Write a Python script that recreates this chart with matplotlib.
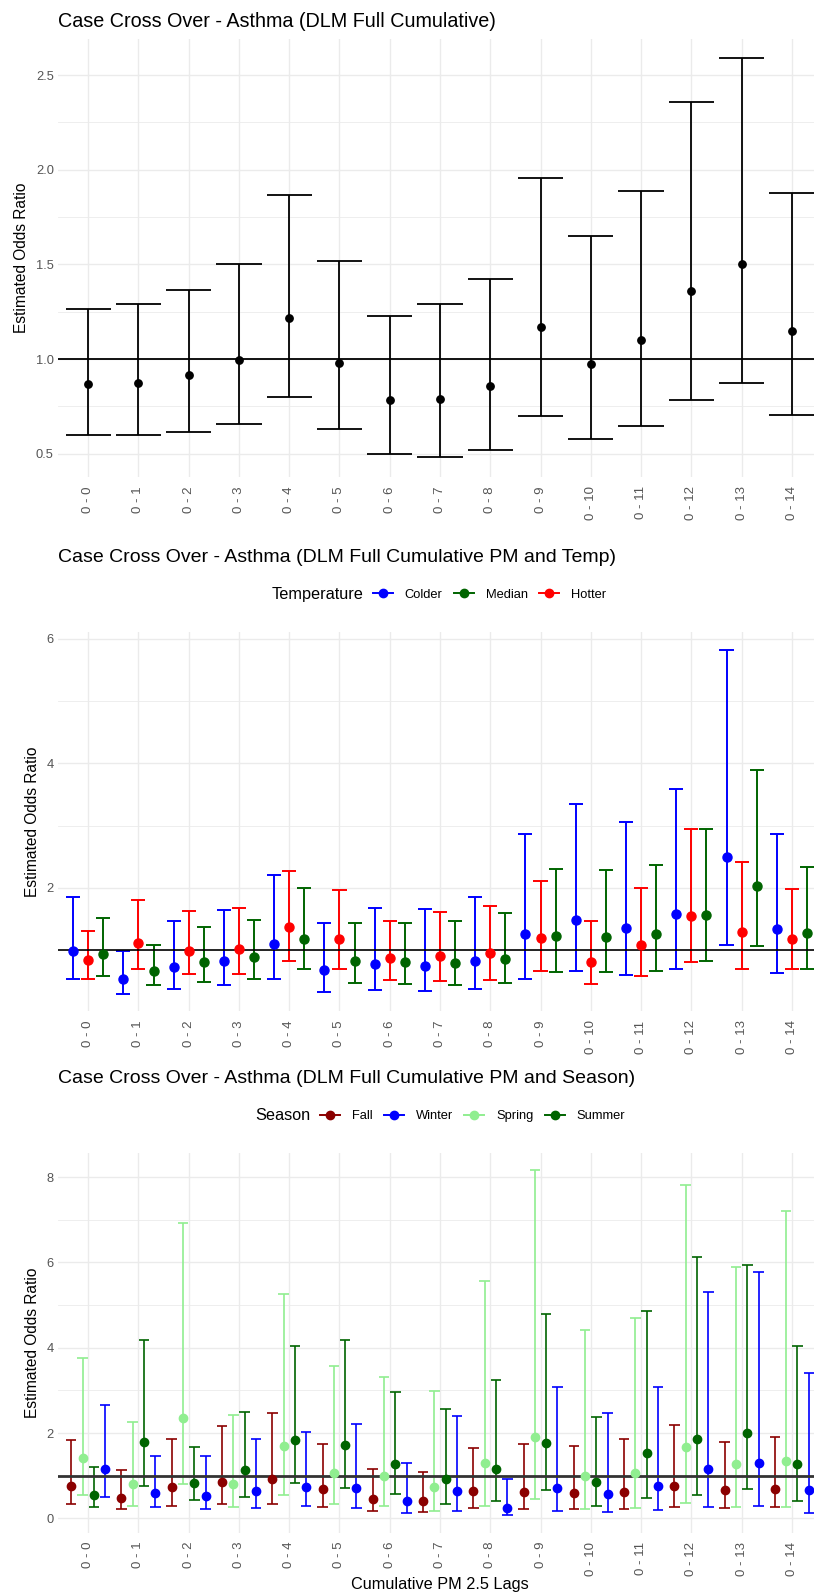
import matplotlib
matplotlib.use('Agg')
import matplotlib.pyplot as plt
from matplotlib.lines import Line2D
import numpy as np

plt.rcParams['font.family'] = ['Liberation Sans', 'DejaVu Sans']

# cumulative lag labels
lags = ['0 - 0', '0 - 1', '0 - 2', '0 - 3', '0 - 4', '0 - 5', '0 - 6', '0 - 7',
        '0 - 8', '0 - 9', '0 - 10', '0 - 11', '0 - 12', '0 - 13', '0 - 14']

# panel 1 - overall
overall_est = [0.866, 0.875, 0.915, 0.993, 1.218, 0.977, 0.783, 0.789, 0.857, 1.169, 0.974, 1.102, 1.358, 1.502, 1.148]
overall_lo = [0.596, 0.596, 0.614, 0.656, 0.797, 0.630, 0.500, 0.482, 0.517, 0.700, 0.577, 0.646, 0.785, 0.875, 0.704]
overall_hi = [1.264, 1.291, 1.367, 1.502, 1.865, 1.518, 1.229, 1.291, 1.423, 1.957, 1.648, 1.888, 2.357, 2.588, 1.876]

# panel 2 - temperature
colder_est = [0.98, 0.53, 0.73, 0.83, 1.09, 0.68, 0.78, 0.75, 0.82, 1.25, 1.48, 1.35, 1.58, 2.50, 1.33]
colder_lo = [0.53, 0.29, 0.37, 0.43, 0.53, 0.33, 0.36, 0.34, 0.37, 0.54, 0.66, 0.60, 0.70, 1.08, 0.63]
colder_hi = [1.85, 0.98, 1.47, 1.64, 2.21, 1.44, 1.67, 1.66, 1.85, 2.86, 3.35, 3.06, 3.59, 5.83, 2.86]
hotter_est = [0.84, 1.12, 0.99, 1.02, 1.37, 1.17, 0.87, 0.90, 0.95, 1.19, 0.81, 1.08, 1.54, 1.29, 1.17]
hotter_lo = [0.54, 0.69, 0.61, 0.62, 0.83, 0.70, 0.52, 0.50, 0.52, 0.67, 0.45, 0.58, 0.80, 0.70, 0.69]
hotter_hi = [1.31, 1.80, 1.62, 1.67, 2.27, 1.97, 1.47, 1.61, 1.71, 2.11, 1.47, 1.99, 2.94, 2.42, 1.98]
median_est = [0.94, 0.67, 0.81, 0.89, 1.17, 0.82, 0.80, 0.79, 0.86, 1.22, 1.21, 1.25, 1.56, 2.03, 1.28]
median_lo = [0.58, 0.43, 0.48, 0.54, 0.69, 0.47, 0.45, 0.43, 0.47, 0.65, 0.65, 0.67, 0.83, 1.06, 0.70]
median_hi = [1.52, 1.08, 1.37, 1.48, 1.99, 1.43, 1.44, 1.46, 1.59, 2.31, 2.29, 2.37, 2.95, 3.90, 2.34]

# panel 3 - season
fall_est = [0.77, 0.49, 0.73, 0.85, 0.92, 0.68, 0.46, 0.41, 0.64, 0.62, 0.59, 0.63, 0.77, 0.67, 0.70]
fall_lo = [0.34, 0.23, 0.29, 0.34, 0.34, 0.27, 0.18, 0.14, 0.25, 0.23, 0.22, 0.22, 0.27, 0.25, 0.27]
fall_hi = [1.83, 1.13, 1.87, 2.16, 2.46, 1.74, 1.17, 1.09, 1.64, 1.74, 1.69, 1.87, 2.19, 1.79, 1.91]
spring_est = [1.42, 0.81, 2.35, 0.81, 1.70, 1.06, 0.99, 0.73, 1.29, 1.92, 0.99, 1.07, 1.67, 1.27, 1.35]
spring_lo = [0.55, 0.29, 0.81, 0.27, 0.56, 0.33, 0.30, 0.17, 0.30, 0.46, 0.23, 0.24, 0.36, 0.27, 0.26]
spring_hi = [3.76, 2.27, 6.92, 2.42, 5.25, 3.58, 3.32, 2.98, 5.56, 8.16, 4.41, 4.69, 7.81, 5.90, 7.21]
summer_est = [0.56, 1.78, 0.84, 1.13, 1.83, 1.73, 1.28, 0.92, 1.16, 1.77, 0.85, 1.54, 1.85, 2.01, 1.28]
summer_lo = [0.27, 0.76, 0.43, 0.50, 0.83, 0.72, 0.57, 0.34, 0.42, 0.66, 0.30, 0.49, 0.56, 0.68, 0.41]
summer_hi = [1.20, 4.19, 1.67, 2.50, 4.05, 4.19, 2.97, 2.56, 3.25, 4.80, 2.38, 4.87, 6.13, 5.95, 4.04]
winter_est = [1.15, 0.60, 0.52, 0.65, 0.74, 0.72, 0.41, 0.64, 0.24, 0.72, 0.58, 0.77, 1.17, 1.30, 0.67]
winter_lo = [0.50, 0.26, 0.21, 0.24, 0.28, 0.25, 0.13, 0.17, 0.07, 0.17, 0.14, 0.19, 0.26, 0.29, 0.13]
winter_hi = [2.65, 1.47, 1.46, 1.86, 2.03, 2.22, 1.31, 2.39, 0.93, 3.09, 2.46, 3.07, 5.31, 5.78, 3.41]

W, H = 814, 1594
fig = plt.figure(figsize=(W / 100, H / 100), dpi=100)
fig.patch.set_facecolor('white')

TICK_COL = '#555555'
GRID_COL = '#EBEBEB'


def make_axes(top, bottom):
    left, right = 58, 822  # right side runs past the image edge, like the original
    return fig.add_axes([left / W, 1 - bottom / H, (right - left) / W, (bottom - top) / H])


def style_axes(ax, ymajor, yminor, all_vals):
    lo, hi = min(all_vals), max(all_vals)
    pad = 0.05 * (hi - lo)
    ax.set_ylim(lo - pad, hi + pad)
    ax.set_xlim(-0.6, 14.6)
    ax.set_xticks(np.arange(15))
    ax.set_xticklabels(lags, rotation=90, va='top', ha='center', fontsize=9.5)
    ax.set_yticks(ymajor)
    ax.set_yticks(yminor, minor=True)
    ax.tick_params(axis='both', which='both', length=0, colors=TICK_COL)
    ax.tick_params(axis='y', labelsize=9.3, pad=3)
    ax.tick_params(axis='x', pad=6.5)
    ax.grid(True, which='major', color=GRID_COL, lw=1.0)
    ax.grid(True, which='minor', axis='y', color=GRID_COL, lw=0.6)
    ax.set_axisbelow(True)
    for s in ax.spines.values():
        s.set_visible(False)
    ax.set_ylabel('Estimated Odds Ratio', fontsize=11.2, color='black', labelpad=5)


def draw_groups(ax, groups, step, cap_w, lw, ms):
    n = len(groups)
    for k, (est, lo, hi, color) in enumerate(groups):
        xs = np.arange(15) + (k - (n - 1) / 2) * step
        ax.vlines(xs, lo, hi, color=color, lw=lw, zorder=2)
        ax.hlines(lo, xs - cap_w / 2, xs + cap_w / 2, color=color, lw=lw, zorder=2)
        ax.hlines(hi, xs - cap_w / 2, xs + cap_w / 2, color=color, lw=lw, zorder=2)
        ax.plot(xs, est, 'o', color=color, ms=ms, zorder=4)


def title(text, y_px, size=14):
    fig.text(58 / W, 1 - y_px / H, text, fontsize=size, ha='left', va='baseline')


def legend(name, items, y_px, x_px, ms, lw):
    # title on the left, keys to its right (ggplot style)
    handles = [Line2D([0], [0], color=c, marker='o', ms=ms, lw=lw) for _, c in items]
    fig.text((x_px - 10) / W, 1 - y_px / H, name, fontsize=11.7, ha='right', va='center')
    fig.legend(handles, [n for n, _ in items], loc='center left',
               bbox_to_anchor=(x_px / W, 1 - y_px / H), ncol=len(items), frameon=False,
               fontsize=9.3, handlelength=1.55, handletextpad=0.9, columnspacing=0.9,
               borderaxespad=0, borderpad=0)


# ---- panel 1
ax1 = make_axes(38.5, 477)
ax1.axhline(1, color='black', lw=1.3, zorder=3)
draw_groups(ax1, [(overall_est, overall_lo, overall_hi, 'black')], 0, 0.9, 1.3, 5.3)
style_axes(ax1, [0.5, 1.0, 1.5, 2.0, 2.5], [0.75, 1.25, 1.75, 2.25],
           overall_lo + overall_hi)
ax1.set_yticklabels(['0.5', '1.0', '1.5', '2.0', '2.5'])
title('Case Cross Over - Asthma (DLM Full Cumulative)', 27, 14.2)

# ---- panel 2
ax2 = make_axes(632.3, 1011.4)
ax2.axhline(1, color='black', lw=1.2, zorder=3)
draw_groups(ax2, [(colder_est, colder_lo, colder_hi, '#0000FF'),
                  (hotter_est, hotter_lo, hotter_hi, '#FF0000'),
                  (median_est, median_lo, median_hi, '#006400')], 0.3, 0.28, 1.4, 6.5)
style_axes(ax2, [2, 4, 6], [1, 3, 5],
           colder_lo + colder_hi + hotter_lo + hotter_hi + median_lo + median_hi)
title('Case Cross Over - Asthma (DLM Full Cumulative PM and Temp)', 562)
legend('Temperature', [('Colder', '#0000FF'), ('Median', '#006400'), ('Hotter', '#FF0000')],
       595, 373, 6, 1.4)

# ---- panel 3
ax3 = make_axes(1153, 1532.7)
ax3.axhline(1, color='#333333', lw=2, zorder=3)
draw_groups(ax3, [(fall_est, fall_lo, fall_hi, '#8B0000'),
                  (spring_est, spring_lo, spring_hi, '#90EE90'),
                  (summer_est, summer_lo, summer_hi, '#006400'),
                  (winter_est, winter_lo, winter_hi, '#0000FF')], 0.225, 0.21, 1.2, 6)
style_axes(ax3, [0, 2, 4, 6, 8], [1, 3, 5, 7],
           fall_lo + fall_hi + spring_lo + spring_hi + summer_lo + summer_hi + winter_lo + winter_hi)
title('Case Cross Over - Asthma (DLM Full Cumulative PM and Season)', 1083)
legend('Season', [('Fall', '#8B0000'), ('Winter', '#0000FF'), ('Spring', '#90EE90'),
                  ('Summer', '#006400')], 1116, 320, 6, 1.4)
fig.text(440 / W, 1 - 1585 / H, 'Cumulative PM 2.5 Lags', fontsize=11.7, ha='center', va='center')

fig.savefig('out.png', dpi=100)
